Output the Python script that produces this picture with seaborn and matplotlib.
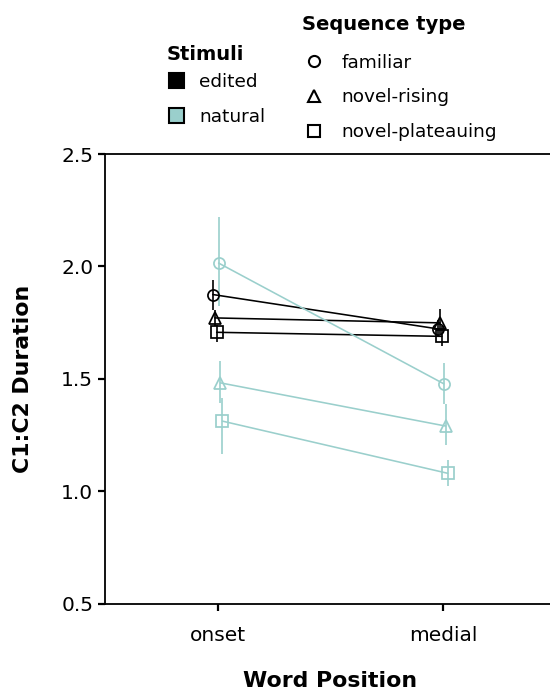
import pandas as pd
import seaborn as sns
import matplotlib.pyplot as plt
from matplotlib.lines import Line2D
from matplotlib.patches import Patch

# Values (group means with interval bounds)
positions = ['onset', 'medial']
stimuli = ['edited', 'edited', 'edited', 'natural', 'natural', 'natural']
seq_types = ['familiar', 'novel-rising', 'novel-plateauing',
             'familiar', 'novel-rising', 'novel-plateauing']
mean_onset = [1.875, 1.771, 1.707, 2.015, 1.482, 1.312]
mean_medial = [1.722, 1.749, 1.689, 1.478, 1.290, 1.080]
lo_onset = [1.808, 1.733, 1.663, 1.822, 1.393, 1.164]
lo_medial = [1.690, 1.700, 1.645, 1.386, 1.205, 1.023]
hi_onset = [1.938, 1.808, 1.741, 2.219, 1.578, 1.416]
hi_medial = [1.760, 1.812, 1.735, 1.571, 1.386, 1.137]
y_ticks = [0.5, 1.0, 1.5, 2.0, 2.5]

palette = {'edited': 'black', 'natural': '#9ACFCC'}
marker_map = {'familiar': 'o', 'novel-rising': '^', 'novel-plateauing': 's'}
dodge_step = 0.0085

# Long table, with a small dodge per group like position_dodge
rows = []
for i in range(len(stimuli)):
    offset = (i - 2.5) * dodge_step
    rows.append(dict(stim=stimuli[i], seq=seq_types[i], x=0 + offset,
                     mean=mean_onset[i], lo=lo_onset[i], hi=hi_onset[i]))
    rows.append(dict(stim=stimuli[i], seq=seq_types[i], x=1 + offset,
                     mean=mean_medial[i], lo=lo_medial[i], hi=hi_medial[i]))
df = pd.DataFrame(rows)

sns.set_style('ticks')
plt.rcParams['font.family'] = ['DejaVu Sans']
plt.rcParams['text.color'] = 'black'
plt.rcParams['axes.labelcolor'] = 'black'

fig = plt.figure(figsize=(5.5, 6.9), dpi=100)
ax = fig.add_axes([0.1909, 0.1251, 0.819, 0.6517])

# error bars
for (stim, seq), sub in df.groupby(['stim', 'seq']):
    ax.vlines(sub['x'], sub['lo'], sub['hi'], color=palette[stim], lw=1.2)

sns.lineplot(data=df, x='x', y='mean', hue='stim', style='seq',
             hue_order=['edited', 'natural'],
             style_order=['familiar', 'novel-rising', 'novel-plateauing'],
             palette=palette, markers=marker_map, dashes=False,
             markersize=8, linewidth=1.15, errorbar=None, legend=False, ax=ax)
for line in ax.lines:
    line.set_markerfacecolor('none')
    line.set_markeredgecolor(line.get_color())
    line.set_markeredgewidth(1.25)

ax.set_xlim(-0.5, 1.5)
ax.set_ylim(0.5, 2.5)
ax.set_xticks([0, 1], positions)
ax.set_yticks(y_ticks, [f'{v:.1f}' for v in y_ticks])
ax.spines['right'].set_visible(False)
for s in ['left', 'bottom', 'top']:
    ax.spines[s].set_linewidth(1.3)
    ax.spines[s].set_color('black')
ax.tick_params(length=5, width=1.6, labelsize=14.5, color='black', labelcolor='black')
ax.tick_params(axis='x', pad=11)
ax.tick_params(axis='y', pad=3.5)
ax.set_xlabel('Word Position', fontsize=15.8, fontweight='bold', labelpad=19)
ax.set_ylabel('C1:C2 Duration', fontsize=15.8, fontweight='bold', labelpad=20)

# legends
fig.text(167 / 550, 1 - 54 / 690, 'Stimuli', fontsize=14, fontweight='bold',
         ha='left', va='center')
fig.text(302 / 550, 1 - 24 / 690, 'Sequence type', fontsize=14, fontweight='bold',
         ha='left', va='center')

stim_handles = [Patch(facecolor=palette[s], edgecolor='black', linewidth=1.5, label=s)
                for s in ['edited', 'natural']]
fig.legend(handles=stim_handles, loc='upper left',
           bbox_to_anchor=(169 / 550, 1 - 73 / 690), frameon=False,
           borderpad=0, borderaxespad=0, fontsize=13.3, handlelength=0.83,
           handleheight=0.85, handletextpad=0.8, labelspacing=0.9)

seq_handles = [Line2D([], [], marker=marker_map[s], linestyle='none',
                      markerfacecolor='none', markeredgecolor='black',
                      markersize=8, markeredgewidth=1.5, label=s)
               for s in ['familiar', 'novel-rising', 'novel-plateauing']]
fig.legend(handles=seq_handles, loc='upper left',
           bbox_to_anchor=(302 / 550, 1 - 53.5 / 690), frameon=False,
           borderpad=0, borderaxespad=0, fontsize=13.3, handlelength=1.3,
           handletextpad=0.85, labelspacing=0.92)

fig.savefig('out.png', dpi=100)
